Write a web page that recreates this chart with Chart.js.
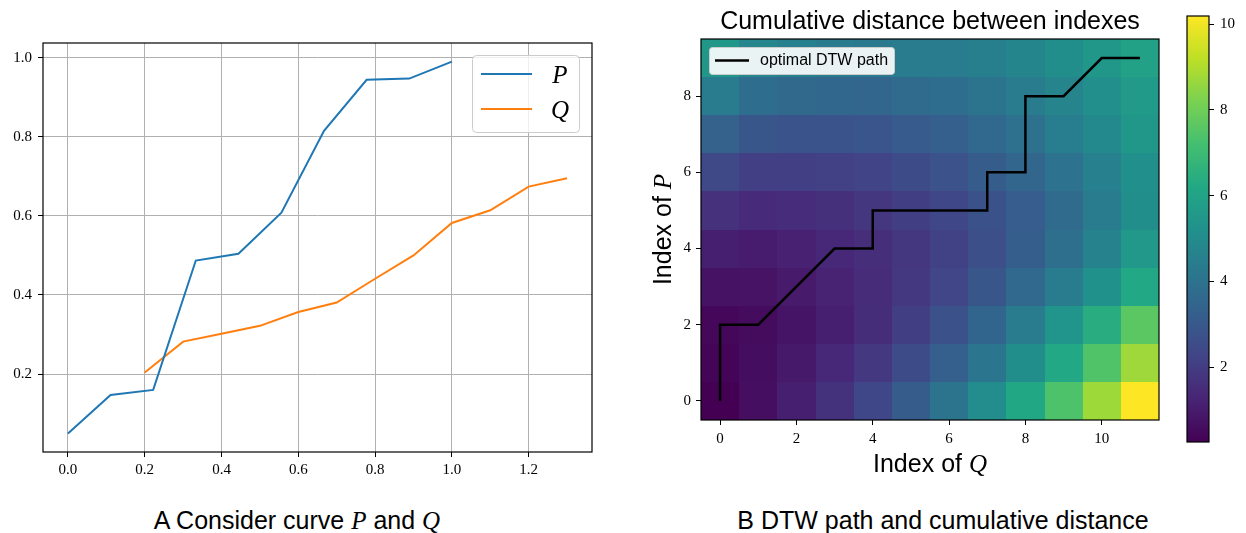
<!DOCTYPE html>
<html lang="en">
<head>
<meta charset="UTF-8">
<title>DTW between curves P and Q</title>
<script src="https://cdn.jsdelivr.net/npm/chart.js"></script>
<style>
  body { margin: 0; background: #fff; width: 1246px; height: 533px; position: relative; overflow: hidden; }
  canvas { position: absolute; top: 0; }
  .caption { position: absolute; top: 505px; width: 420px; font: 25px 'Liberation Sans', sans-serif; line-height: 30px; text-align: center; white-space: nowrap; color: #000; }
  .caption i { font-family: 'Liberation Serif', serif; }
</style>
</head>
<body>
<canvas id="curves" width="600" height="490" style="left:0"></canvas>
<canvas id="dtw" width="545" height="490" style="left:640px"></canvas>
<canvas id="cbar" width="66" height="490" style="left:1180px"></canvas>
<div class="caption" style="left:87px">A Consider curve <i>P</i> and <i>Q</i></div>
<div class="caption" style="left:733px">B DTW path and cumulative distance</div>

<script>
// curve P, 10 samples
const pX = [0, 0.111, 0.222, 0.333, 0.444, 0.556, 0.667, 0.778, 0.889, 1.0];
const pY = [0.050, 0.147, 0.160, 0.487, 0.504, 0.608, 0.815, 0.944, 0.947, 0.990];
// curve Q, 12 samples
const qX = [0.2, 0.3, 0.4, 0.5, 0.6, 0.7, 0.8, 0.9, 1.0, 1.1, 1.2, 1.3];
const qY = [0.204, 0.282, 0.302, 0.322, 0.357, 0.381, 0.441, 0.500, 0.582, 0.614, 0.674, 0.695];
const curveTicksX = [0, 0.2, 0.4, 0.6, 0.8, 1.0, 1.2];
const curveTicksY = [0.2, 0.4, 0.6, 0.8, 1.0];

// cumulative DTW cost: one row per index of P (0..9), one column per index of Q (0..11)
const cumDist = [
  [0.25, 0.63, 1.10, 1.67, 2.35, 3.12, 4.01, 5.02, 6.15, 7.39, 8.74, 10.19],
  [0.36, 0.59, 0.92, 1.35, 1.88, 2.51, 3.26, 4.12, 5.11, 6.21, 7.42, 8.73],
  [0.41, 0.55, 0.78, 1.10, 1.53, 2.06, 2.70, 3.46, 4.34, 5.33, 6.43, 7.64],
  [0.72, 0.76, 0.95, 1.18, 1.48, 1.86, 2.33, 2.90, 3.57, 4.35, 5.23, 6.22],
  [1.11, 1.03, 1.15, 1.33, 1.54, 1.82, 2.19, 2.64, 3.20, 3.87, 4.64, 5.52],
  [1.65, 1.44, 1.50, 1.62, 1.80, 2.06, 2.36, 2.72, 3.17, 3.71, 4.36, 5.11],
  [2.41, 2.09, 2.07, 2.14, 2.26, 2.50, 2.76, 3.11, 3.52, 4.00, 4.55, 5.19],
  [3.35, 2.90, 2.82, 2.82, 2.87, 3.07, 3.26, 3.57, 3.94, 4.41, 4.91, 5.48],
  [4.37, 3.79, 3.63, 3.55, 3.53, 3.66, 3.77, 4.02, 4.33, 4.72, 5.13, 5.62],
  [5.49, 4.79, 4.54, 4.39, 4.28, 4.34, 4.36, 4.52, 4.73, 5.10, 5.47, 5.89]
];
// optimal warping path (index of Q, index of P)
const pathQ = [0, 0, 0, 1, 2, 3, 4, 4, 5, 6, 7, 7, 8, 8, 8, 9, 10, 11];
const pathP = [0, 1, 2, 2, 3, 4, 4, 5, 5, 5, 5, 6, 6, 7, 8, 8, 9, 9];
const dtwTicksX = [0, 2, 4, 6, 8, 10];
const dtwTicksY = [0, 2, 4, 6, 8];
const cbarTicks = [2, 4, 6, 8, 10];

const viridis = ['#440154', '#482475', '#414487', '#355f8d', '#2a788e', '#21918c',
                 '#22a884', '#44bf70', '#7ad151', '#bddf26', '#fde725'];

const vMin = Math.min(...cumDist.flat());
const vMax = Math.max(...cumDist.flat());

function hexRgb(h) {
  return [1, 3, 5].map(i => parseInt(h.slice(i, i + 2), 16));
}
function viridisAt(t) {
  t = Math.max(0, Math.min(1, t)) * (viridis.length - 1);
  const i = Math.min(Math.floor(t), viridis.length - 2), f = t - i;
  const a = hexRgb(viridis[i]), b = hexRgb(viridis[i + 1]);
  const c = a.map((v, k) => Math.round(v + (b[k] - v) * f));
  return `rgb(${c[0]},${c[1]},${c[2]})`;
}

const SANS = "'Liberation Sans', Arial, sans-serif";
const SERIF = "'Liberation Serif', 'Times New Roman', serif";

Chart.defaults.font.family = SERIF;
Chart.defaults.font.size = 15;
Chart.defaults.color = '#000';

const fixedTicks = values => s => { s.ticks = values.map(v => ({ value: v })); };

// draws a row of text pieces in different fonts, centred on x
function drawRuns(ctx, runs, x, y) {
  let total = 0;
  runs.forEach(r => { ctx.font = r.font; total += ctx.measureText(r.text).width; });
  let cx = x - total / 2;
  ctx.textAlign = 'left';
  runs.forEach(r => {
    ctx.font = r.font;
    ctx.fillText(r.text, cx, y);
    cx += ctx.measureText(r.text).width;
  });
}

// black box round the plotting area
const frame = {
  id: 'frame',
  afterDatasetsDraw(chart) {
    const { ctx, chartArea: a } = chart;
    ctx.save();
    ctx.strokeStyle = '#000';
    ctx.lineWidth = 1.2;
    ctx.strokeRect(a.left, a.top, a.right - a.left, a.bottom - a.top);
    ctx.restore();
  }
};

// legend box for P and Q, upper right
const curveLegend = {
  id: 'curveLegend',
  afterDraw(chart) {
    const { ctx, chartArea: a } = chart;
    const left = a.right - 120, top = a.top + 12;
    ctx.save();
    ctx.beginPath();
    ctx.roundRect(left + 0.5, top + 0.5, 107, 77, 4);
    ctx.fillStyle = 'rgba(255,255,255,0.8)';
    ctx.fill();
    ctx.strokeStyle = '#cccccc';
    ctx.lineWidth = 1;
    ctx.stroke();
    chart.data.datasets.forEach((ds, i) => {
      const y = top + 19 + i * 35;
      ctx.strokeStyle = ds.borderColor;
      ctx.lineWidth = 2;
      ctx.beginPath();
      ctx.moveTo(left + 9, y);
      ctx.lineTo(left + 60, y);
      ctx.stroke();
      ctx.fillStyle = '#000';
      ctx.font = 'italic 25px ' + SERIF;
      ctx.textAlign = 'center';
      ctx.textBaseline = 'alphabetic';
      ctx.fillText(ds.label, left + 88, y + 9);
    });
    ctx.restore();
  }
};

new Chart(document.getElementById('curves'), {
  type: 'scatter',
  data: {
    datasets: [
      { label: 'P', data: pX.map((x, i) => ({ x, y: pY[i] })), showLine: true,
        borderColor: '#1f77b4', borderWidth: 2, pointRadius: 0, fill: false },
      { label: 'Q', data: qX.map((x, i) => ({ x, y: qY[i] })), showLine: true,
        borderColor: '#ff7f0e', borderWidth: 2, pointRadius: 0, fill: false }
    ]
  },
  options: {
    responsive: false,
    animation: false,
    layout: { padding: { top: 43, right: 8, left: 0, bottom: 0 } },
    plugins: { legend: { display: false }, tooltip: { enabled: false } },
    scales: {
      x: {
        type: 'linear', min: -0.065, max: 1.365,
        afterBuildTicks: fixedTicks(curveTicksX),
        afterFit: s => { s.height = 38; },
        grid: { color: '#b0b0b0', lineWidth: 1, tickColor: '#000', tickLength: 5 },
        border: { display: false },
        ticks: { padding: 4, autoSkip: false, maxRotation: 0, callback: v => v.toFixed(1) }
      },
      y: {
        type: 'linear', min: 0.003, max: 1.037,
        afterBuildTicks: fixedTicks(curveTicksY),
        afterFit: s => { s.width = 43; },
        grid: { color: '#b0b0b0', lineWidth: 1, tickColor: '#000', tickLength: 5 },
        border: { display: false },
        ticks: { padding: 6, autoSkip: false, callback: v => v.toFixed(1) }
      }
    }
  },
  plugins: [frame, curveLegend]
});

// heatmap cells of the cumulative cost, drawn through the chart scales
const heatCells = {
  id: 'heatCells',
  beforeDatasetsDraw(chart) {
    const { ctx, scales: { x, y } } = chart;
    ctx.save();
    cumDist.forEach((row, p) => row.forEach((v, q) => {
      const x0 = Math.round(x.getPixelForValue(q - 0.5)), x1 = Math.round(x.getPixelForValue(q + 0.5));
      const y0 = Math.round(y.getPixelForValue(p + 0.5)), y1 = Math.round(y.getPixelForValue(p - 0.5));
      ctx.fillStyle = viridisAt((v - vMin) / (vMax - vMin));
      ctx.fillRect(x0, y0, x1 - x0, y1 - y0);
    }));
    ctx.restore();
  }
};

// title, axis titles and the path legend
const dtwLabels = {
  id: 'dtwLabels',
  afterDraw(chart) {
    const { ctx, chartArea: a } = chart;
    const cx = (a.left + a.right) / 2, cy = (a.top + a.bottom) / 2;
    ctx.save();
    ctx.fillStyle = '#000';
    ctx.textBaseline = 'alphabetic';
    drawRuns(ctx, [{ text: 'Cumulative distance between indexes', font: '25px ' + SANS }], cx, a.top - 10);
    drawRuns(ctx, [{ text: 'Index of ', font: '25px ' + SANS }, { text: 'Q', font: 'italic 25px ' + SERIF }], cx, 472);
    ctx.save();
    ctx.translate(31, cy);
    ctx.rotate(-Math.PI / 2);
    drawRuns(ctx, [{ text: 'Index of ', font: '25px ' + SANS }, { text: 'P', font: 'italic 25px ' + SERIF }], 0, 0);
    ctx.restore();

    const left = a.left + 8, top = a.top + 8;
    ctx.beginPath();
    ctx.roundRect(left + 0.5, top + 0.5, 185, 27, 3);
    ctx.fillStyle = 'rgba(255,255,255,0.9)';
    ctx.fill();
    ctx.strokeStyle = '#cccccc';
    ctx.lineWidth = 1;
    ctx.stroke();
    ctx.strokeStyle = '#000';
    ctx.lineWidth = 2.5;
    ctx.beginPath();
    ctx.moveTo(left + 6, top + 13.5);
    ctx.lineTo(left + 40, top + 13.5);
    ctx.stroke();
    ctx.fillStyle = '#000';
    ctx.font = '16px ' + SANS;
    ctx.textAlign = 'left';
    ctx.textBaseline = 'middle';
    ctx.fillText(chart.data.datasets[0].label, left + 51, top + 14);
    ctx.restore();
  }
};

new Chart(document.getElementById('dtw'), {
  type: 'scatter',
  data: {
    datasets: [
      { label: 'optimal DTW path', data: pathQ.map((q, i) => ({ x: q, y: pathP[i] })), showLine: true,
        borderColor: '#000', borderWidth: 2.5, pointRadius: 0, fill: false, borderJoinStyle: 'miter' }
    ]
  },
  options: {
    responsive: false,
    animation: false,
    layout: { padding: { top: 39, right: 26, left: 0, bottom: 0 } },
    plugins: { legend: { display: false }, tooltip: { enabled: false } },
    scales: {
      x: {
        type: 'linear', min: -0.5, max: 11.5,
        afterBuildTicks: fixedTicks(dtwTicksX),
        afterFit: s => { s.height = 70; },
        grid: { drawOnChartArea: false, tickColor: '#000', tickLength: 5 },
        border: { display: false },
        ticks: { padding: 5, autoSkip: false, maxRotation: 0 }
      },
      y: {
        type: 'linear', min: -0.5, max: 9.5,
        afterBuildTicks: fixedTicks(dtwTicksY),
        afterFit: s => { s.width = 61; },
        grid: { drawOnChartArea: false, tickColor: '#000', tickLength: 5 },
        border: { display: false },
        ticks: { padding: 5, autoSkip: false }
      }
    }
  },
  plugins: [heatCells, frame, dtwLabels]
});

// colour bar: viridis gradient over the value range
const gradientBar = {
  id: 'gradientBar',
  beforeDatasetsDraw(chart) {
    const { ctx, chartArea: a } = chart;
    const g = ctx.createLinearGradient(0, a.bottom, 0, a.top);
    viridis.forEach((c, i) => g.addColorStop(i / (viridis.length - 1), c));
    ctx.save();
    ctx.fillStyle = g;
    ctx.fillRect(a.left, a.top, a.right - a.left, a.bottom - a.top);
    ctx.restore();
  }
};

new Chart(document.getElementById('cbar'), {
  type: 'scatter',
  data: { datasets: [{ data: [] }] },
  options: {
    responsive: false,
    animation: false,
    layout: { padding: { top: 16, bottom: 48, left: 7, right: 0 } },
    plugins: { legend: { display: false }, tooltip: { enabled: false } },
    scales: {
      x: { display: false, min: 0, max: 1 },
      y: {
        position: 'right', min: vMin, max: vMax,
        afterBuildTicks: fixedTicks(cbarTicks),
        afterFit: s => { s.width = 37; },
        grid: { drawOnChartArea: false, tickColor: '#000', tickLength: 5 },
        border: { display: false },
        ticks: { padding: 6, autoSkip: false }
      }
    }
  },
  plugins: [gradientBar, frame]
});
</script>
</body>
</html>
